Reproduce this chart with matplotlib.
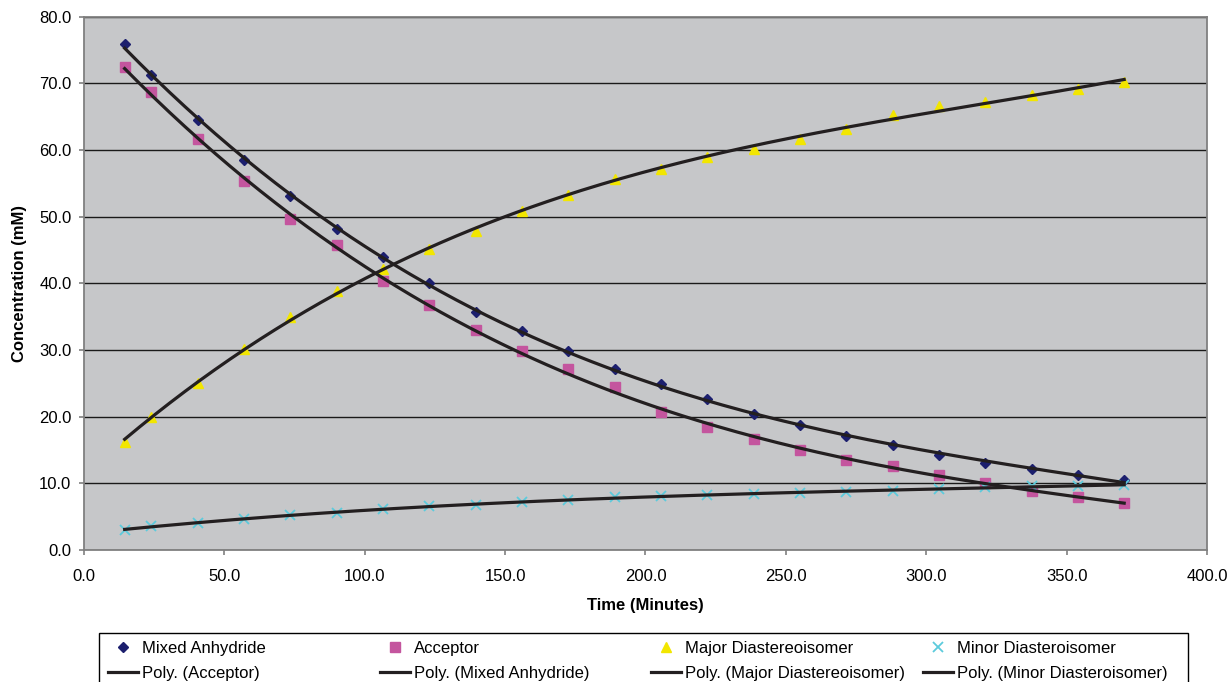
import numpy as np
import matplotlib.pyplot as plt
from matplotlib.patches import Rectangle
from matplotlib.ticker import FormatStrFormatter

plt.rcParams['font.family'] = ['Liberation Sans', 'DejaVu Sans']

# sampling times (minutes)
time_min = [14.5, 24.0, 40.5, 57.0, 73.5, 90.0, 106.5, 123.0, 139.5, 156.0, 172.5, 189.0,
            205.5, 222.0, 238.5, 255.0, 271.5, 288.0, 304.5, 321.0, 337.5, 354.0, 370.5]

mixed_anhydride = [75.9, 71.2, 64.5, 58.5, 53.1, 48.1, 43.9, 40.0, 35.7, 32.9, 29.9, 27.1,
                   24.9, 22.6, 20.4, 18.7, 17.1, 15.8, 14.3, 13.1, 12.1, 11.2, 10.5]
acceptor = [72.4, 68.7, 61.7, 55.3, 49.7, 45.7, 40.3, 36.8, 33.0, 29.8, 27.2, 24.5,
            20.7, 18.5, 16.7, 15.0, 13.5, 12.6, 11.2, 10.1, 8.9, 7.9, 7.1]
major_diast = [16.2, 20.0, 25.0, 30.2, 35.0, 38.9, 42.2, 45.2, 47.9, 50.9, 53.2, 55.6,
               57.2, 59.0, 60.2, 61.6, 63.2, 65.3, 66.6, 67.2, 68.2, 69.2, 70.2]
minor_diast = [3.0, 3.6, 4.1, 4.7, 5.2, 5.6, 6.1, 6.6, 6.8, 7.2, 7.5, 8.0,
               8.1, 8.2, 8.4, 8.6, 8.7, 8.9, 9.2, 9.5, 9.6, 9.6, 9.7]

fig = plt.figure(figsize=(12.31, 6.82), dpi=100)
ax = fig.add_axes([0.0682, 0.1935, 0.9123, 0.782])
ax.set_facecolor('#c6c7c9')

series = [
    ('Mixed Anhydride', mixed_anhydride, dict(marker='D', color='#1c1f6e', ms=5.5)),
    ('Acceptor', acceptor, dict(marker='s', color='#c4559e', ms=7)),
    ('Major Diastereoisomer', major_diast, dict(marker='^', color='#f2e600', ms=7)),
    ('Minor Diasteroisomer', minor_diast, dict(marker='x', color='#5ccbdc', ms=7, mew=1.3)),
]

x = np.array(time_min)
xs = np.linspace(x.min(), x.max(), 200)
pts = {}
fits = {}
for name, y, st in series:
    pts[name], = ax.plot(x, y, linestyle='none', label=name, zorder=3, **st)
    # Excel-like polynomial trendline
    coef = np.polyfit(x, y, 3)
    fits[name], = ax.plot(xs, np.polyval(coef, xs), color='#231f20', lw=2.3,
                          label=f'Poly. ({name})', zorder=4)

ax.set_xlim(0, 400)
ax.set_ylim(0, 80)
ax.set_xticks(np.arange(0, 401, 50))
ax.set_yticks(np.arange(0, 81, 10))
ax.xaxis.set_major_formatter(FormatStrFormatter('%.1f'))
ax.yaxis.set_major_formatter(FormatStrFormatter('%.1f'))
ax.grid(axis='y', color='#1a1a1a', lw=1.0)
ax.set_axisbelow(True)
for s in ax.spines.values():
    s.set_color('#808080')
    s.set_linewidth(1.3)
ax.tick_params(direction='out', length=3.5, width=1.2, color='#808080', labelsize=12)
ax.tick_params(axis='x', pad=10.5)
ax.tick_params(axis='y', pad=5.5)

ax.set_xlabel('Time (Minutes)', fontsize=12, fontweight='bold', labelpad=10)
ax.set_ylabel('Concentration (mM)', fontsize=12, fontweight='bold', labelpad=9)

# legend: 4 evenly spaced columns, markers on top row, trend lines below
columns = [
    (pts['Mixed Anhydride'], fits['Acceptor']),
    (pts['Acceptor'], fits['Mixed Anhydride']),
    (pts['Major Diastereoisomer'], fits['Major Diastereoisomer']),
    (pts['Minor Diasteroisomer'], fits['Minor Diasteroisomer']),
]
col_x = [108, 380, 651, 923]
W, H = 1231.0, 682.0
for cx, handles in zip(col_x, columns):
    fig.legend(handles=list(handles), labels=[h.get_label() for h in handles],
               loc='upper left', bbox_to_anchor=(cx / W, 1 - 641 / H),
               frameon=False, fontsize=12, handlelength=1.8, handletextpad=0.25,
               labelspacing=0.6, borderpad=0, borderaxespad=0)
fig.patches.append(Rectangle((99 / W, -0.05), (1188 - 99) / W, 0.05 + 1 - 633 / H,
                             transform=fig.transFigure, fill=False,
                             edgecolor='#000000', lw=1.0))

plt.savefig('out.png', dpi=100)
